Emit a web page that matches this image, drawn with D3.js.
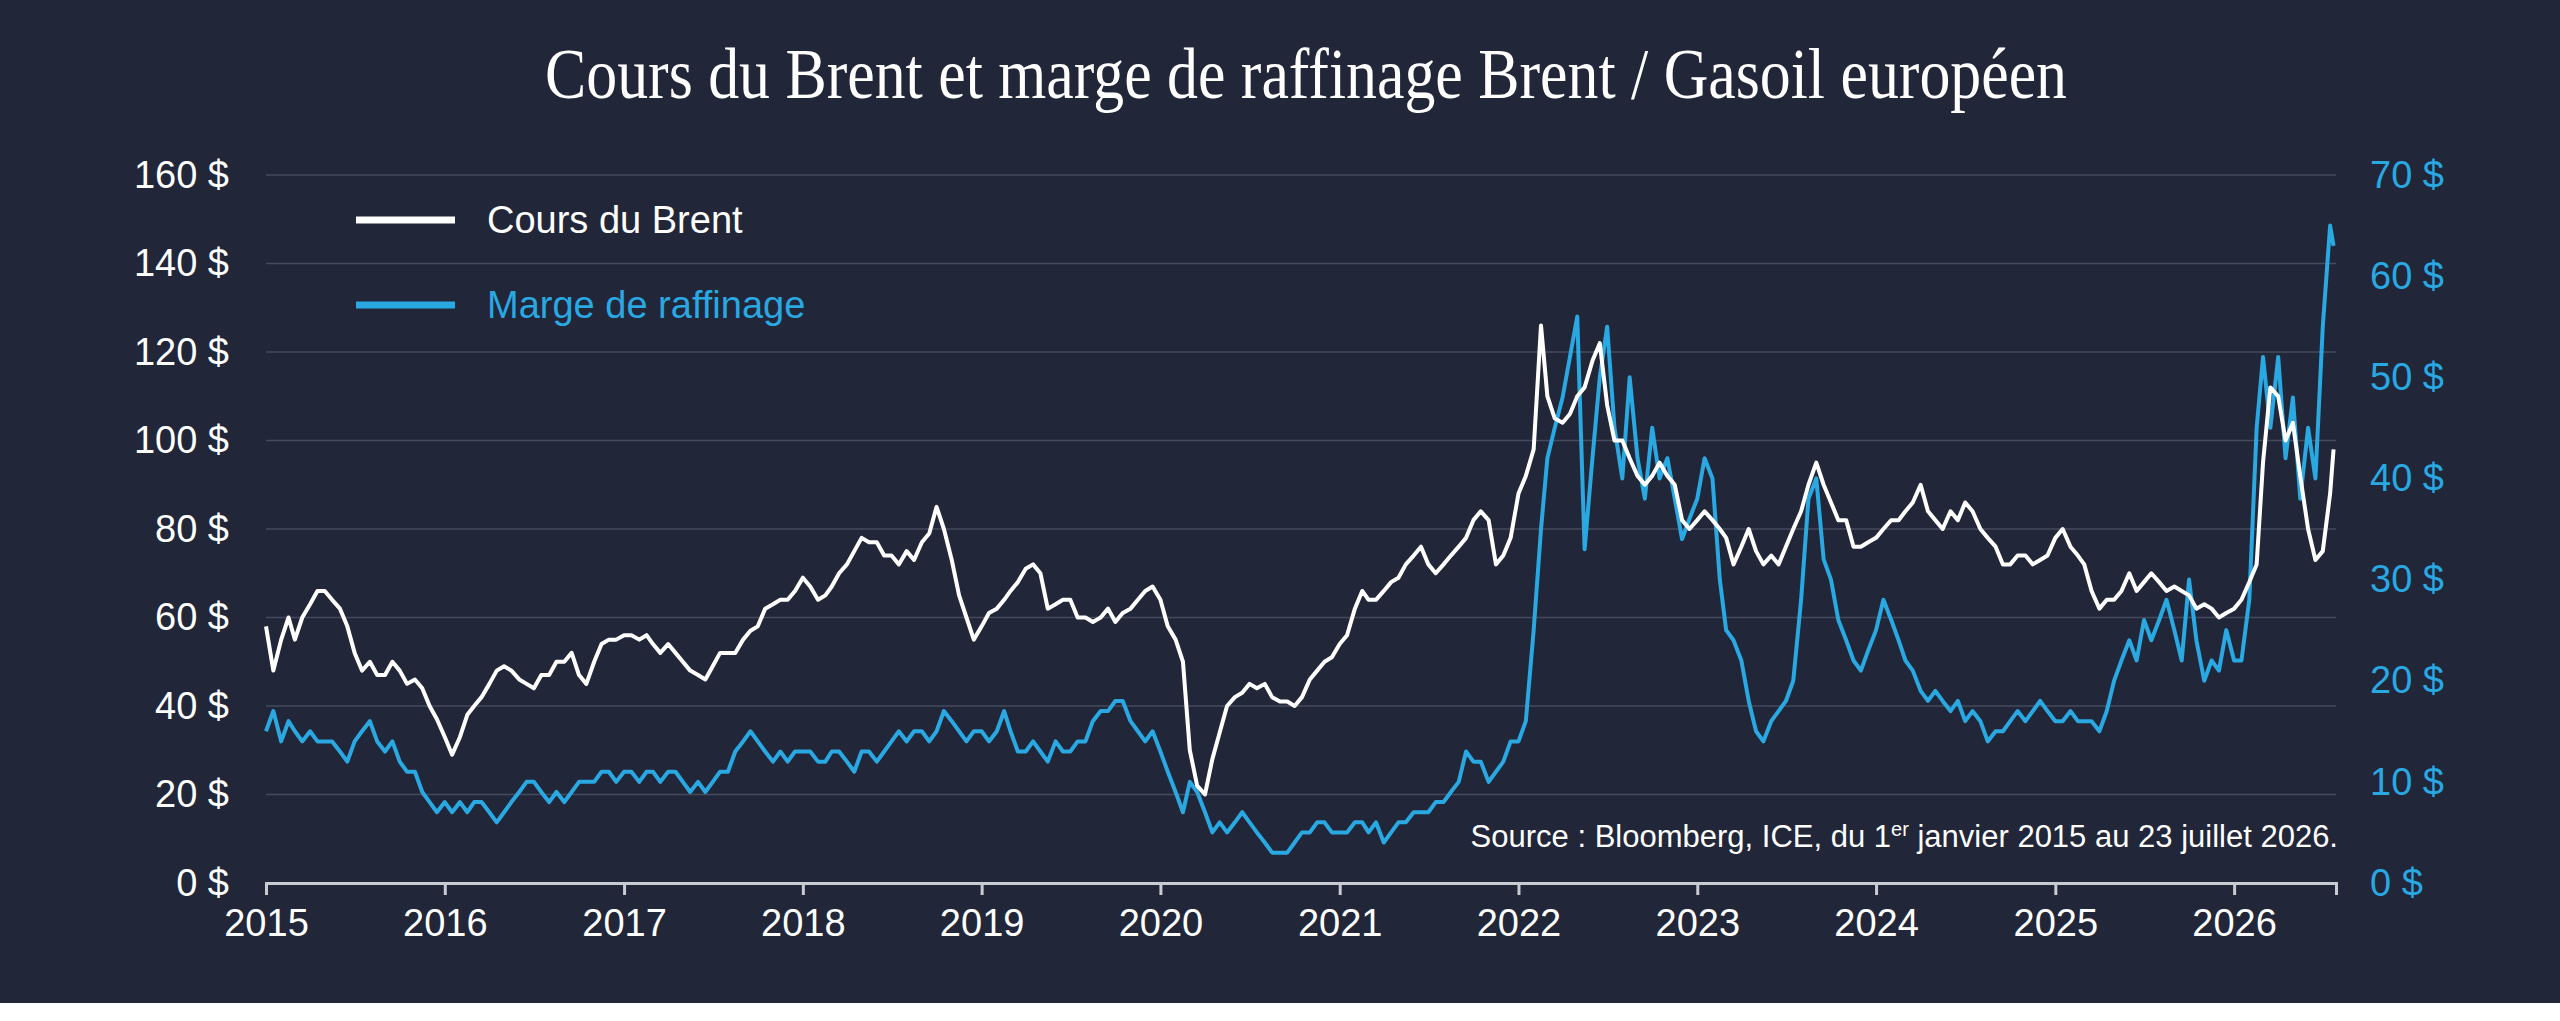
<!DOCTYPE html>
<html><head><meta charset="utf-8">
<script src="https://cdn.jsdelivr.net/npm/d3@7"></script>
<style>
html,body{margin:0;padding:0;background:#222639;}
svg{display:block;}
</style></head>
<body><svg id="chart"></svg>
<script>
const width = 2560, height = 1021;
const years = [2015,2016,2017,2018,2019,2020,2021,2022,2023,2024,2025,2026];
const yearTicks = years;
const leftTicks = [0,20,40,60,80,100,120,140,160];
const rightTicks = [0,10,20,30,40,50,60,70];

// Brent, two readings a month (1st and 16th), 2026 ends on 23 July
const brent = [
  58,48,55,60,55,60,63,66,66,64,62,58,52,48,50,47,47,50,48,45,46,44,40,37,
  33,29,33,38,40,42,45,48,49,48,46,45,44,47,47,50,50,52,47,45,50,54,55,55,
  56,56,55,56,54,52,54,52,50,48,47,46,49,52,52,52,55,57,58,62,63,64,64,66,
  69,67,64,65,67,70,72,75,78,77,77,74,74,72,75,73,77,79,85,80,73,65,60,55,
  58,61,62,64,66,68,71,72,70,62,63,64,64,60,60,59,60,62,59,61,62,64,66,67,
  64,58,55,50,30,22,20,28,34,40,42,43,45,44,45,42,41,41,40,42,46,48,50,51,
  54,56,62,66,64,64,66,68,69,72,74,76,72,70,72,74,76,78,82,84,82,72,74,78,
  88,92,98,126,110,105,104,106,110,112,118,122,108,100,100,96,92,90,92,95,92,90,82,80,
  82,84,82,80,78,72,76,80,75,72,74,72,76,80,84,90,95,90,86,82,82,76,76,77,
  78,80,82,82,84,86,90,84,82,80,84,82,86,84,80,78,76,72,72,74,74,72,73,74,
  78,80,76,74,72,66,62,64,64,66,70,66,68,70,68,66,67,66,65,62,63,62,60,61,
  62,64,68,72,95,112,110,100,104,92,80,73,75,88,98
];
// Marge de raffinage (right axis), same dates
const marge = [
  15,17,14,16,15,14,15,14,14,14,13,12,14,15,16,14,13,14,12,11,11,9,8,7,
  8,7,8,7,8,8,7,6,7,8,9,10,10,9,8,9,8,9,10,10,10,11,11,10,
  11,11,10,11,11,10,11,11,10,9,10,9,10,11,11,13,14,15,14,13,12,13,12,13,
  13,13,12,12,13,13,12,11,13,13,12,13,14,15,14,15,15,14,15,17,16,15,14,15,
  15,14,15,17,15,13,13,14,13,12,14,13,13,14,14,16,17,17,18,18,16,15,14,15,
  13,11,9,7,10,9,7,5,6,5,6,7,6,5,4,3,3,3,4,5,5,6,6,5,
  5,5,6,6,5,6,4,5,6,6,7,7,7,8,8,9,10,13,12,12,10,11,12,14,
  14,16,25,35,42,45,48,52,56,33,42,50,55,45,40,50,42,38,45,40,42,38,34,36,
  38,42,40,30,25,24,22,18,15,14,16,17,18,20,28,38,40,32,30,26,24,22,21,23,
  25,28,26,24,22,21,19,18,19,18,17,18,16,17,16,14,15,15,16,17,16,17,18,17,
  16,16,17,16,16,16,15,17,20,22,24,22,26,24,26,28,25,22,30,24,20,22,21,25,
  22,22,28,45,52,45,52,42,48,38,45,40,55,65,63
];

const dates = brent.map((_, i) => {
  if (i === brent.length - 1) return new Date(2026, 6, 23);
  return new Date(2015 + Math.floor(i / 24), Math.floor((i % 24) / 2), i % 2 ? 16 : 1);
});

const svg = d3.select('#chart').attr('width', width).attr('height', height);
svg.append('rect').attr('width', width).attr('height', height).attr('fill', '#222639');
svg.append('rect').attr('y', 1003).attr('width', width).attr('height', 18).attr('fill', '#ffffff');

const x = d3.scaleTime().domain([new Date(2015,0,1), new Date(2026,6,28)]).range([266, 2336]);
const yL = d3.scaleLinear().domain([0,160]).range([883,175]);
const yR = d3.scaleLinear().domain([0,70]).range([883,175]);

// grid
svg.append('g').selectAll('line').data(leftTicks.filter(d => d > 0)).enter().append('line')
  .attr('x1', 266).attr('x2', 2336).attr('y1', d => yL(d)).attr('y2', d => yL(d))
  .attr('stroke', '#464a5d').attr('stroke-width', 1.5);

// left axis
const gl = svg.append('g').attr('transform', 'translate(229,0)')
  .call(d3.axisLeft(yL).tickValues(leftTicks).tickSize(0).tickFormat(d => d + ' $'));
gl.select('.domain').remove();
gl.selectAll('text').attr('fill', '#ffffff').attr('font-size', 38).attr('font-family', 'Liberation Sans, Arial').attr('x', 0);

// right axis
const gr = svg.append('g').attr('transform', 'translate(2370,0)')
  .call(d3.axisRight(yR).tickValues(rightTicks).tickSize(0).tickFormat(d => d + ' $'));
gr.select('.domain').remove();
gr.selectAll('text').attr('fill', '#29a8e2').attr('font-size', 38).attr('font-family', 'Liberation Sans, Arial').attr('x', 0);

// x axis
const gx = svg.append('g').attr('transform', 'translate(0,883)')
  .call(d3.axisBottom(x).tickValues(yearTicks.map(y => new Date(y,0,1))).tickSize(12).tickPadding(14).tickFormat(d3.timeFormat('%Y')));
gx.select('.domain').attr('stroke', '#c9cbd2').attr('stroke-width', 3);
gx.selectAll('line').attr('stroke', '#c9cbd2').attr('stroke-width', 3);
gx.selectAll('text').attr('fill', '#ffffff').attr('font-size', 38).attr('font-family', 'Liberation Sans, Arial');

// lines
const lineL = d3.line().x((d, i) => x(dates[i])).y(d => yL(d));
const lineR = d3.line().x((d, i) => x(dates[i])).y(d => yR(d));
svg.append('path').datum(marge).attr('d', lineR).attr('fill', 'none').attr('stroke', '#29a8e2').attr('stroke-width', 4).attr('stroke-linejoin', 'round');
svg.append('path').datum(brent).attr('d', lineL).attr('fill', 'none').attr('stroke', '#ffffff').attr('stroke-width', 4).attr('stroke-linejoin', 'round');

// title
svg.append('text').attr('x', 1306).attr('y', 98).attr('text-anchor', 'middle')
  .attr('fill', '#ffffff').attr('font-family', 'Liberation Serif, DejaVu Serif, serif').attr('font-size', 72)
  .attr('textLength', 1522).attr('lengthAdjust', 'spacingAndGlyphs')
  .text('Cours du Brent et marge de raffinage Brent / Gasoil européen');

// legend
const legend = [{label:'Cours du Brent', color:'#ffffff', y:220}, {label:'Marge de raffinage', color:'#29a8e2', y:305}];
const lg = svg.append('g').selectAll('g').data(legend).enter().append('g');
lg.append('line').attr('x1', 356).attr('x2', 455).attr('y1', d => d.y).attr('y2', d => d.y)
  .attr('stroke', d => d.color).attr('stroke-width', 7);
lg.append('text').attr('x', 487).attr('y', d => d.y + 13).attr('fill', d => d.color)
  .attr('font-size', 38).attr('font-family', 'Liberation Sans, Arial').text(d => d.label);

// source
const src = svg.append('text').attr('x', 2338).attr('y', 847).attr('text-anchor', 'end')
  .attr('fill', '#ffffff').attr('font-size', 31).attr('font-family', 'Liberation Sans, Arial');
src.append('tspan').text('Source : Bloomberg, ICE, du 1');
src.append('tspan').attr('dy', -11).attr('font-size', 20).text('er');
src.append('tspan').attr('dy', 11).text(' janvier 2015 au 23 juillet 2026.');
</script></body></html>
